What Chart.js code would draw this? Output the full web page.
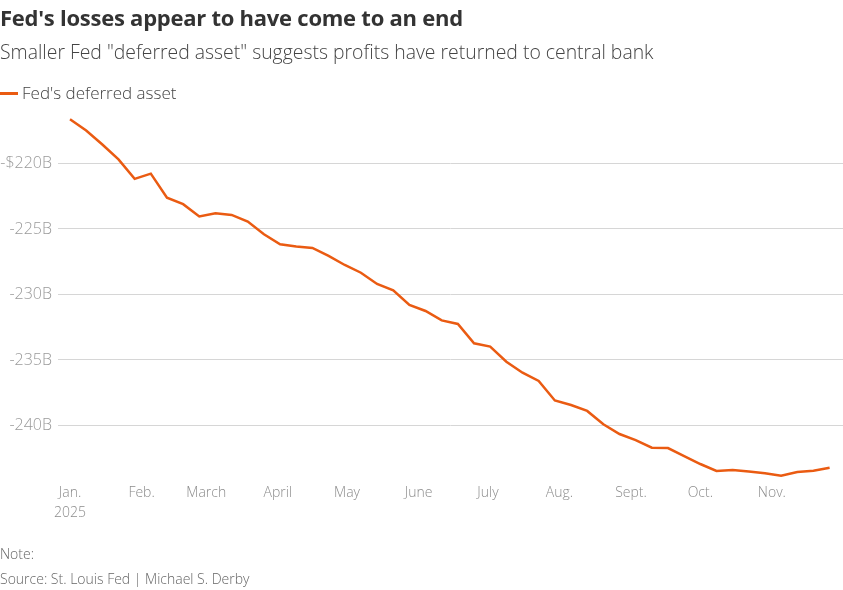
<!DOCTYPE html>
<html>
<head>
<meta charset="utf-8">
<script src="https://cdn.jsdelivr.net/npm/chart.js@4.4.1/dist/chart.umd.min.js"></script>
<style>
  html, body { margin: 0; padding: 0; background: #fff; }
  body { width: 843px; height: 590px; position: relative; overflow: hidden; font-family: "Open Sans", Roboto, sans-serif; }
  #wrap { position: absolute; left: 0; top: 0; width: 843px; height: 590px; }
  .t { position: absolute; left: 0; white-space: nowrap; line-height: 1.2; }
  #title { top: 4px; font-size: 22px; font-weight: 700; color: #333; letter-spacing: -0.25px; }
  #subtitle { top: 40px; font-size: 19.4px; font-weight: 300; color: #444; }
  #legend { top: 83px; font-size: 17px; font-weight: 300; color: #444; }
  #legend span.sw { display: inline-block; width: 18px; height: 2.5px; background: #ea5b12; vertical-align: middle; margin-right: 4px; position: relative; top: -1px; }
  #note { top: 546px; font-size: 14px; color: #666; font-weight: 300; }
  #source { top: 571px; font-size: 14px; color: #666; font-weight: 300; }
</style>
</head>
<body>
<div id="wrap"><canvas id="c" width="843" height="590"></canvas></div>
<div class="t" id="title">Fed's losses appear to have come to an end</div>
<div class="t" id="subtitle">Smaller Fed "deferred asset" suggests profits have returned to central bank</div>
<div class="t" id="legend"><span class="sw"></span>Fed's deferred asset</div>
<div class="t" id="note">Note:</div>
<div class="t" id="source">Source: St. Louis Fed | Michael S. Derby</div>
<script>
// Weekly observations (Wednesdays), 2025
const dates = [
  "2025-01-01","2025-01-08","2025-01-15","2025-01-22","2025-01-29",
  "2025-02-05","2025-02-12","2025-02-19","2025-02-26",
  "2025-03-05","2025-03-12","2025-03-19","2025-03-26",
  "2025-04-02","2025-04-09","2025-04-16","2025-04-23","2025-04-30",
  "2025-05-07","2025-05-14","2025-05-21","2025-05-28",
  "2025-06-04","2025-06-11","2025-06-18","2025-06-25",
  "2025-07-02","2025-07-09","2025-07-16","2025-07-23","2025-07-30",
  "2025-08-06","2025-08-13","2025-08-20","2025-08-27",
  "2025-09-03","2025-09-10","2025-09-17","2025-09-24",
  "2025-10-01","2025-10-08","2025-10-15","2025-10-22","2025-10-29",
  "2025-11-05","2025-11-12","2025-11-19","2025-11-26"
];
// Deferred asset, billions of dollars
const deferredAsset = [
  -216.63, -217.48, -218.55, -219.69, -221.18,
  -220.78, -222.61, -223.11, -224.05,
  -223.80, -223.93, -224.44, -225.40,
  -226.17, -226.34, -226.45, -227.06, -227.75,
  -228.34, -229.20, -229.69, -230.80,
  -231.26, -231.98, -232.25, -233.73,
  -233.98, -235.13, -235.97, -236.60, -238.09,
  -238.44, -238.89, -239.91, -240.65,
  -241.11, -241.69, -241.72, -242.33,
  -242.94, -243.47, -243.40, -243.51, -243.65,
  -243.84, -243.55, -243.45, -243.22
];
const monthStarts = ["2025-01-01","2025-02-01","2025-03-01","2025-04-01","2025-05-01","2025-06-01",
                     "2025-07-01","2025-08-01","2025-09-01","2025-10-01","2025-11-01"];
const monthLabels = [["Jan.","2025"],"Feb.","March","April","May","June","July","Aug.","Sept.","Oct.","Nov."];
const yTicks = [-240, -235, -230, -225, -220];

const t0 = Date.UTC(2025, 0, 1);
const dayOf = s => { const [y,m,d] = s.split("-").map(Number); return (Date.UTC(y, m-1, d) - t0) / 86400000; };
const monthDays = monthStarts.map(dayOf);
const points = dates.map((d, i) => ({ x: dayOf(d), y: deferredAsset[i] }));

new Chart(document.getElementById("c"), {
  type: "line",
  data: { datasets: [{
    label: "Fed's deferred asset",
    data: points,
    borderColor: "#ea5b12",
    borderWidth: 2.5,
    pointRadius: 0,
    tension: 0,
    fill: false,
    clip: false
  }]},
  options: {
    responsive: false,
    animation: false,
    events: [],
    layout: { padding: { top: 117.6, right: 0, left: 0, bottom: 0 } },
    plugins: { legend: { display: false }, tooltip: { enabled: false }, title: { display: false } },
    scales: {
      x: {
        type: "linear",
        min: -5.2, max: 334.8,
        afterBuildTicks: s => { s.ticks = monthDays.map(v => ({ value: v })); },
        afterFit: s => { s.height = 112.1; },
        grid: { display: false, drawTicks: false },
        border: { display: false },
        ticks: {
          autoSkip: false, maxRotation: 0, padding: 5,
          color: "#8c8c8c",
          font: { family: "Open Sans", size: 14, weight: 300, lineHeight: 20/14 },
          callback: (v) => { const i = monthDays.indexOf(v); return i >= 0 ? monthLabels[i] : ""; }
        }
      },
      y: {
        type: "linear",
        min: -244, max: -216.5,
        afterBuildTicks: s => { s.ticks = yTicks.map(v => ({ value: v })); },
        afterFit: s => { s.width = 58; },
        grid: { color: "#d6d6d6", lineWidth: 1, drawTicks: false },
        border: { display: false },
        ticks: {
          padding: 6,
          color: "#9a9a9a",
          font: { family: "Open Sans", size: 16, weight: 300 },
          callback: v => v === -220 ? "-$220B" : v + "B"
        }
      }
    }
  }
});
</script>
</body>
</html>
